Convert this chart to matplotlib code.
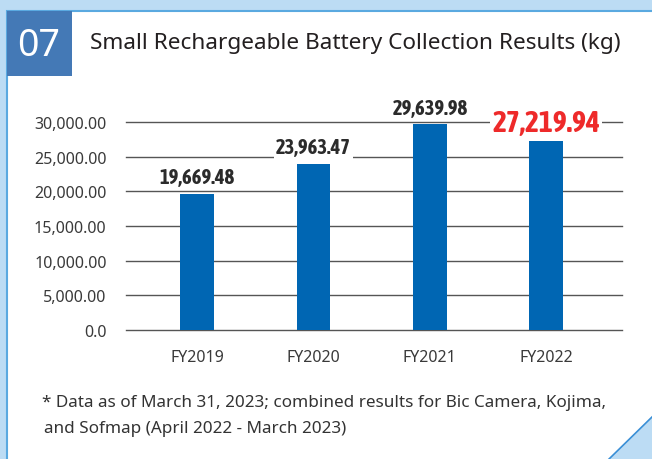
import matplotlib.pyplot as plt
from matplotlib.patches import Rectangle, Polygon
import numpy as np

# data
years = ["FY2019", "FY2020", "FY2021", "FY2022"]
weights = [19669.48, 23963.47, 29639.98, 27219.94]
value_labels = ["19,669.48", "23,963.47", "29,639.98", "27,219.94"]
y_ticks = [0, 5000, 10000, 15000, 20000, 25000, 30000]
y_tick_labels = ["0.0", "5,000.00", "10,000.00", "15,000.00", "20,000.00", "25,000.00", "30,000.00"]

plt.rcParams['font.family'] = ['Noto Sans', 'DejaVu Sans']
cond = ['Asap Condensed', 'DejaVu Sans']

W, H = 652, 460
fig = plt.figure(figsize=(W / 100, H / 100), dpi=100)
fig.patch.set_facecolor("#bcdcf4")

# background drawn in pixel coords
bg = fig.add_axes([0, 0, 1, 1], zorder=0)
bg.set_xlim(0, W)
bg.set_ylim(H, 0)
bg.axis("off")
bg.add_patch(Rectangle((7, 12), W, H, facecolor="white", edgecolor="#5aa9e0", lw=1.5))
bg.add_patch(Rectangle((7, 12), 65, 65, facecolor="#4479b6", edgecolor="none"))
bg.add_patch(Polygon([(608, 461), (653, 417), (653, 461)], closed=True,
                     facecolor="#bcdcf4", edgecolor="#3a8fd6", lw=1.2))
bg.text(39, 46, "07", color="white", fontsize=27, ha="center", va="center")
bg.text(90, 44, "Small Rechargeable Battery Collection Results (kg)", color="#231f20",
        fontsize=16.25, ha="left", va="center")
bg.text(42, 403, "* Data as of March 31, 2023; combined results for Bic Camera, Kojima,",
        color="#333333", fontsize=12.3, ha="left", va="center")
bg.text(44, 429, "and Sofmap (April 2022 - March 2023)",
        color="#333333", fontsize=12.3, ha="left", va="center")

ax = fig.add_axes([126 / W, 1 - 331 / H, (622 - 126) / W, (331 - 123) / H], zorder=1)
ax.patch.set_alpha(0)
x = np.arange(len(years))
ax.bar(x, weights, width=0.29, color="#0066b3", zorder=3)
ax.set_xlim(-0.61, 3.65)
ax.set_ylim(0, 30000)
ax.set_yticks(y_ticks)
ax.set_yticklabels(y_tick_labels)
ax.set_xticks(x)
ax.set_xticklabels(years)
ax.tick_params(axis="y", length=0, pad=14, labelsize=11.5, labelcolor="#3a3a3a")
ax.tick_params(axis="x", length=0, pad=14, labelsize=11.5, labelcolor="#3a3a3a")
for s in ax.spines.values():
    s.set_visible(False)
ax.yaxis.grid(True, color="#555555", lw=1.0, zorder=1)
for t in ax.yaxis.get_gridlines():
    t.set_clip_on(False)

for i, (v, lab) in enumerate(zip(weights, value_labels)):
    if i == 3:
        ax.annotate(lab, (i, v), xytext=(0, 3), textcoords="offset points",
                    ha="center", va="bottom", fontsize=21.3, fontweight="bold",
                    color="#ee2a2a", family=cond, zorder=4, annotation_clip=False,
                    bbox=dict(facecolor="white", edgecolor="none", pad=1.5))
    else:
        ax.annotate(lab, (i, v), xytext=(0, 5), textcoords="offset points",
                    ha="center", va="bottom", fontsize=14.8, fontweight="bold",
                    color="#2b2b2b", family=cond, zorder=4, annotation_clip=False,
                    bbox=dict(facecolor="white", edgecolor="none", pad=1.5))

fig.savefig("out.png", dpi=100)
